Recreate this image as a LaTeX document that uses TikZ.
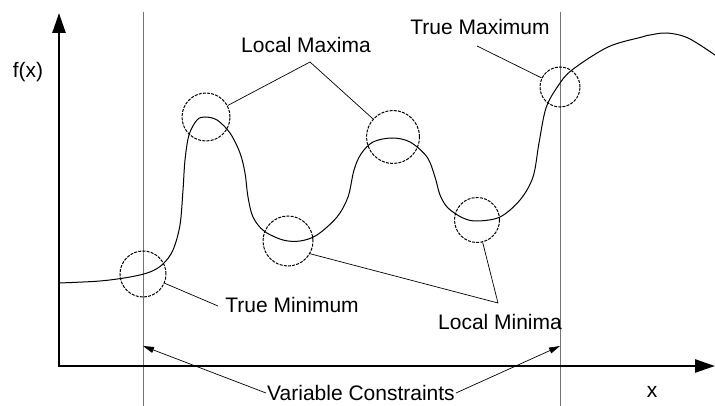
\documentclass[tikz,border=0pt]{standalone}
\usepackage{fontspec}
\setmainfont{Liberation Sans}
\usetikzlibrary{arrows.meta}
\begin{document}
\begin{tikzpicture}[x=1pt,y=-1pt,
  lbl/.style={font=\fontsize{21}{25}\selectfont, inner sep=1pt},
  spot/.style={draw, circle, dash pattern=on 3pt off 1.2pt, line width=1pt, inner sep=0pt},
  leader/.style={line width=0.7pt},
  axisline/.style={line width=2.6pt, line join=miter, {Triangle[length=20pt,width=13pt]}-{Triangle[length=20pt,width=13pt]}},
  bound/.style={draw=black!55, line width=1pt},
  boundarrow/.style={line width=0.7pt, -{Triangle[length=11pt,width=6pt]}},
  curve/.style={line width=1pt}]
\useasboundingbox (0,0) rectangle (715,406);

% constraint lines
\coordinate (ltop) at (143,12);
\coordinate (lbot) at (143,406);
\coordinate (rtop) at (560,12);
\coordinate (rbot) at (560,406);
\draw[bound] (ltop) -- (lbot);
\draw[bound] (rtop) -- (rbot);

% axes
\coordinate (ytip) at (59,13);
\coordinate (origin) at (59,366);
\coordinate (xtip) at (715,366);
\draw[axisline] (ytip) -- (origin) -- (xtip);

% function curve
\draw[curve] plot[smooth, tension=0.55] coordinates {
(59,283) (100,281) (130,277) (150,272) (163,264) (173,250) (180,225) (183,190)
(185,160) (189,135) (197,120) (205,117) (217,120) (230,133) (240,153) (245,173)
(248,197) (253,217) (264,231) (283,240) (300,241) (317,235) (337,217) (348,197)
(354,170) (361,154) (373,142) (392,138) (410,142) (427,157) (435,177) (440,195)
(448,208) (463,218) (477,221) (500,217) (520,200) (533,177) (539,143) (546,108)
(558,86) (572,70) (608,47) (642,37) (650,35) (667,33) (688,38) (715,55)};

% dashed circles
\node[spot, minimum size=46pt] (tmin) at (143,274) {};
\node[spot, minimum size=48pt] (lmax1) at (206,117) {};
\node[spot, minimum size=50pt] (lmin1) at (288,241) {};
\node[spot, minimum size=53pt] (lmax2) at (393,137) {};
\node[spot, minimum size=45pt] (lmin2) at (477,220) {};
\node[spot, minimum size=40pt] (tmax) at (560,87) {};

% labels
\node[lbl] (fx) at (28,72) {f(x)};
\node[lbl] (xl) at (652,392) {x};
\node[lbl] (lmaxl) at (306,45) {Local Maxima};
\node[lbl] (tmaxl) at (480,27) {True Maximum};
\node[lbl] (tminl) at (292,305) {True Minimum};
\node[lbl] (lminl) at (500,322) {Local Minima};
\node[lbl] (vcl) at (361,393) {Variable Constraints};

% leaders
\coordinate (lmaxapex) at (310,62);
\coordinate (lminapex) at (498,303);
\coordinate (tmaxend) at (477,46);
\coordinate (tminend) at (218,306);
\draw[leader] (lmax1) -- (lmaxapex) -- (lmax2);
\draw[leader] (lmin1.-30) -- (lminapex) -- (lmin2);
\draw[leader] (tmaxend) -- (tmax);
\draw[leader] (tmin) -- (tminend);

% constraint arrows
\coordinate (ltip) at (143,346);
\coordinate (rtip) at (560,346);
\draw[boundarrow] (vcl.west) -- (ltip);
\draw[boundarrow] (vcl.east) -- (rtip);
\end{tikzpicture}
\end{document}
